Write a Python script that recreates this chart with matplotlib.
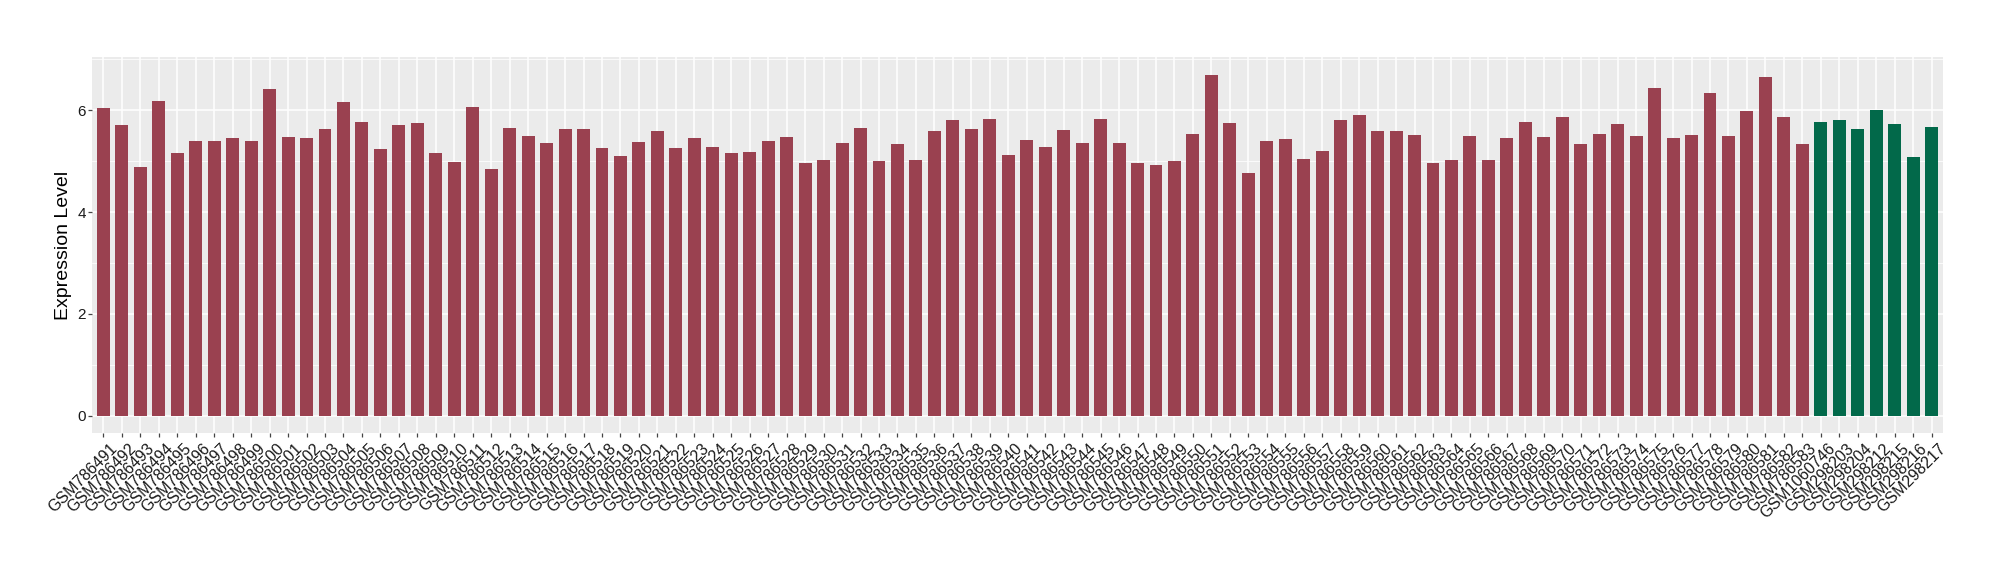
import numpy as np
import matplotlib
matplotlib.use('Agg')
import matplotlib.pyplot as plt
import matplotlib.transforms as mtransforms

plt.rcParams['font.family'] = ['Liberation Sans', 'DejaVu Sans']

# Sample ids and expression values
group1_ids = ['GSM786%d' % n for n in range(491, 584)]
group1_vals = [6.04, 5.70, 4.88, 6.18, 5.16, 5.39, 5.39, 5.45, 5.39, 6.41,
               5.47, 5.45, 5.63, 6.16, 5.76, 5.23, 5.70, 5.74, 5.16, 4.98,
               6.07, 4.84, 5.66, 5.49, 5.35, 5.64, 5.64, 5.25, 5.10, 5.37,
               5.59, 5.25, 5.45, 5.27, 5.16, 5.18, 5.39, 5.47, 4.96, 5.03,
               5.35, 5.66, 5.00, 5.33, 5.03, 5.59, 5.80, 5.64, 5.82, 5.12,
               5.41, 5.27, 5.61, 5.35, 5.82, 5.35, 4.96, 4.92, 5.00, 5.53,
               6.70, 5.74, 4.76, 5.39, 5.43, 5.05, 5.20, 5.80, 5.90, 5.59,
               5.59, 5.51, 4.96, 5.02, 5.49, 5.03, 5.45, 5.76, 5.47, 5.86,
               5.33, 5.53, 5.72, 5.49, 6.43, 5.45, 5.51, 6.33, 5.49, 5.98,
               6.65, 5.86, 5.33]
group2_ids = ['GSM1060746', 'GSM298203', 'GSM298204', 'GSM298212',
              'GSM298215', 'GSM298216', 'GSM298217']
group2_vals = [5.76, 5.80, 5.64, 6.00, 5.72, 5.08, 5.68]

red = '#9A4150'
green = '#02694A'

labels = group1_ids + group2_ids
vals = group1_vals + group2_vals
colors = [red] * len(group1_ids) + [green] * len(group2_ids)
x = np.arange(len(labels))

fig = plt.figure(figsize=(20, 5.8), dpi=100)
ax = fig.add_axes([0.04615, 0.25345, 0.9252, 0.6478])
ax.set_facecolor('#EBEBEB')

ax.bar(x, vals, width=0.7, color=colors, zorder=3)

ax.set_xlim(-0.6, len(labels) - 1 + 0.6)
ax.set_ylim(-0.34, 7.04)
ax.set_yticks([0, 2, 4, 6])
ax.set_yticks([1, 3, 5, 7], minor=True)
ax.set_xticks(x)
ax.set_xticklabels(labels, rotation=45, ha='right', va='top',
                   rotation_mode='anchor', fontsize=11.5, color='#1A1A1A')
ax.tick_params(axis='y', labelsize=11, labelcolor='#1A1A1A', pad=2)
ax.tick_params(axis='x', pad=3)
ax.tick_params(which='major', length=2.75, width=0.9, color='#444444')
ax.tick_params(which='minor', length=0)
ax.grid(which='major', color='white', linewidth=1.1, zorder=0)
ax.grid(which='minor', axis='y', color='white', linewidth=0.55, zorder=0)
ax.set_axisbelow(True)
for s in ax.spines.values():
    s.set_visible(False)

# ggplot puts the rotated labels a little to the right of the tick
shift = mtransforms.ScaledTranslation(6.5 / 100, 0, fig.dpi_scale_trans)
for lab in ax.get_xticklabels():
    lab.set_transform(lab.get_transform() + shift)

ax.set_ylabel('Expression Level', fontsize=14, labelpad=4)

fig.savefig('out.png', dpi=100)
